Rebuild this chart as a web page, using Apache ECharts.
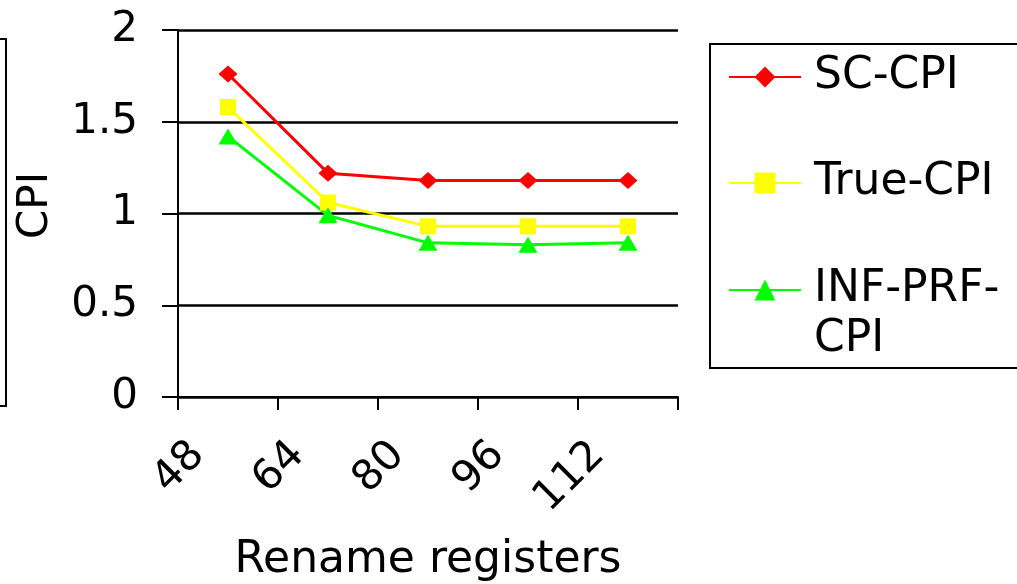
<!DOCTYPE html>
<html><head><meta charset="utf-8">
<script src="https://cdn.jsdelivr.net/npm/echarts@6/dist/echarts.min.js"></script>
<style>html,body{margin:0;padding:0;background:#fff}#c{width:1017px;height:584px}</style>
</head><body><div id="c"></div>
<script>
var categories = ['48', '64', '80', '96', '112'];
var scCPI = [1.76, 1.22, 1.18, 1.18, 1.18];
var trueCPI = [1.58, 1.06, 0.93, 0.93, 0.93];
var infPrfCPI = [1.42, 0.99, 0.84, 0.83, 0.84];
var seriesNames = ['SC-CPI', 'True-CPI', 'INF-PRF-CPI'];

var FONT = 'DejaVu Sans';
var chart = echarts.init(document.getElementById('c'), null, {renderer: 'canvas'});
chart.setOption({
  animation: false,
  backgroundColor: '#fff',
  textStyle: {fontFamily: FONT, color: '#000'},
  grid: {left: 178, right: 339, top: 30, bottom: 187, containLabel: false, outerBoundsMode: 'none'},
  graphic: [{
    type: 'rect', shape: {x: -20, y: 39, width: 26, height: 367},
    style: {fill: 'none', stroke: '#000', lineWidth: 2}
  }],
  legend: {
    orient: 'vertical', left: 710, top: 44,
    padding: [9, 40, 6, 18],
    borderColor: '#000', borderWidth: 2,
    itemWidth: 72, itemHeight: 26, itemGap: 58,
    lineStyle: {width: 2},
    textStyle: {fontFamily: FONT, fontSize: 44, color: '#000', lineHeight: 48, padding: [0, 0, 0, 8],
      rich: {t: {fontFamily: FONT, fontSize: 44, color: '#000', lineHeight: 48},
             u: {fontFamily: FONT, fontSize: 44, color: '#000', lineHeight: 50}}},
    data: [seriesNames[0], seriesNames[1], {name: seriesNames[2], textStyle: {padding: [0, 0, -50, 8]}}],
    formatter: function (n) { return n === 'INF-PRF-CPI' ? '{u|INF-PRF-}\n{u|CPI}' : '{t|' + n + '}'; }
  },
  xAxis: {
    type: 'category', data: categories, boundaryGap: true,
    name: 'Rename registers', nameLocation: 'middle', nameGap: 142,
    nameTextStyle: {fontFamily: FONT, fontSize: 44, color: '#000'},
    axisLine: {lineStyle: {color: '#000', width: 2}},
    axisTick: {show: true, length: 13, lineStyle: {color: '#000', width: 2}},
    axisLabel: {interval: 0, rotate: 45, margin: 22, fontFamily: FONT, fontSize: 42, color: '#000', padding: [0, 42, 0, 0]},
    splitLine: {show: false}
  },
  yAxis: {
    type: 'value', min: 0, max: 2, interval: 0.5,
    name: 'CPI', nameLocation: 'middle', nameGap: 121,
    nameTextStyle: {fontFamily: FONT, fontSize: 42, color: '#000', padding: [0, 0, 0, 16]},
    axisLine: {show: true, lineStyle: {color: '#000', width: 2}},
    axisTick: {show: true, length: 16, lineStyle: {color: '#000', width: 2}},
    axisLabel: {margin: 40, fontFamily: FONT, fontSize: 42, color: '#000'},
    splitLine: {show: true, lineStyle: {color: '#000', width: 2.5}}
  },
  series: [
    {name: seriesNames[0], type: 'line', data: scCPI, symbol: 'diamond', symbolSize: [19, 17],
     itemStyle: {color: '#ff0000'}, lineStyle: {color: '#ff0000', width: 3}},
    {name: seriesNames[1], type: 'line', data: trueCPI, symbol: 'rect', symbolSize: 16,
     itemStyle: {color: '#ffff00'}, lineStyle: {color: '#ffff00', width: 3}},
    {name: seriesNames[2], type: 'line', data: infPrfCPI, symbol: 'triangle', symbolSize: [19, 16],
     itemStyle: {color: '#00ff00'}, lineStyle: {color: '#00ff00', width: 3}}
  ]
});
</script></body></html>
